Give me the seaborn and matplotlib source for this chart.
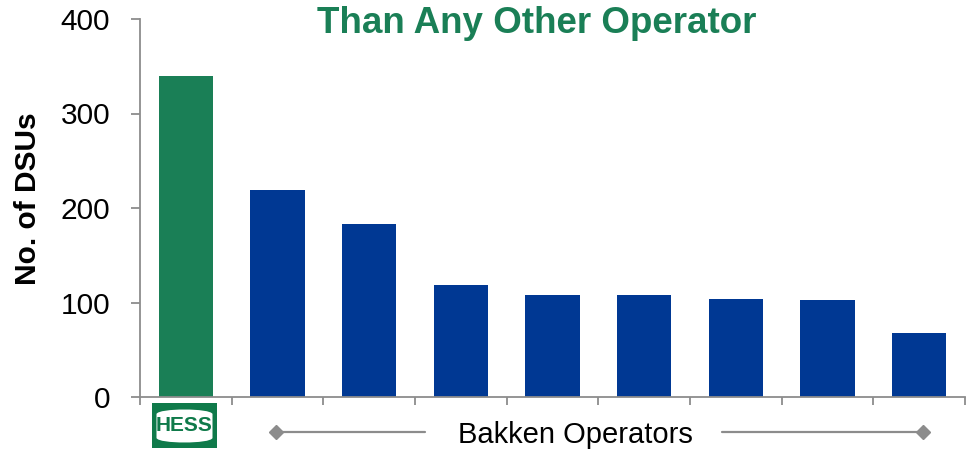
import matplotlib
matplotlib.use("Agg")
import matplotlib.pyplot as plt
import seaborn as sns
import pandas as pd
from matplotlib.patches import Rectangle, PathPatch
from matplotlib.path import Path
from matplotlib.lines import Line2D

# ---- data ----
operators = ["Hess", "Operator 2", "Operator 3", "Operator 4", "Operator 5",
             "Operator 6", "Operator 7", "Operator 8", "Operator 9"]
dsus = [340, 219, 183, 118, 108, 108, 104, 103, 68]
groups = ["Hess"] + ["Other"] * 8
y_ticks = [0, 100, 200, 300, 400]
title_text = "Than Any Other Operator"
ylabel_text = "No. of DSUs"
group_label = "Bakken Operators"
logo_text = "HESS"

GREEN = "#1A7F56"
LOGO_GREEN = "#0F7A4A"
BLUE = "#003893"
GRAY = "#8C8C8C"

sns.set_theme(style="white")
plt.rcParams['font.family'] = ['Liberation Sans', 'DejaVu Sans']

W, H = 971, 450
fig = plt.figure(figsize=(W / 100, H / 100), dpi=100)


def fx(px):
    return px / W


def fy(py):
    return 1 - py / H


ax = fig.add_axes([fx(140), fy(397), fx(965) - fx(140), fy(19) - fy(397)])

df = pd.DataFrame({"operator": operators, "dsus": dsus, "group": groups})
sns.barplot(data=df, x="operator", y="dsus", hue="group",
            palette={"Hess": GREEN, "Other": BLUE}, dodge=False,
            width=0.59, saturation=1, legend=False, ax=ax, linewidth=0)

n = len(operators)
ax.set_xlim(-0.5, n - 0.5)
ax.set_ylim(y_ticks[0], y_ticks[-1])
ax.set_yticks(y_ticks)
ax.set_yticklabels([str(t) for t in y_ticks], fontsize=21.5, color="black")
ax.set_xticks([i - 0.5 for i in range(n + 1)])
ax.set_xticklabels([])
ax.set_xlabel("")
ax.set_ylabel("")

for side in ["top", "right"]:
    ax.spines[side].set_visible(False)
for side in ["left", "bottom"]:
    ax.spines[side].set_color(GRAY)
    ax.spines[side].set_linewidth(1.3)
ax.tick_params(axis="y", left=True, length=6.5, width=1.3, color=GRAY, pad=15)
ax.tick_params(axis="x", bottom=True, length=5.5, width=1.3, color=GRAY)

# title
fig.text(fx(536.5), fy(33), title_text, ha="center", va="baseline",
         fontsize=26.5, fontweight="bold", color=GREEN)

# y label
fig.text(fx(28), fy(198.5), ylabel_text, rotation=90, ha="center", va="center",
         fontsize=21.5, fontweight="bold", color="black")

# Hess logo
fig.patches.append(Rectangle((fx(152), fy(448)), fx(217) - fx(152), fy(403) - fy(448),
                             transform=fig.transFigure, facecolor=LOGO_GREEN,
                             edgecolor="none", zorder=3))
# barrel-shaped white badge (pixel coords -> figure fraction)
l, r, t, b = 156.5, 212.5, 408, 444
bulge = 4
verts_px = [
    (l, t + 5),
    (l + 4, t + 1), ((l + r) / 2, t - bulge + 2), (r - 4, t + 1), (r, t + 5),
    (r, b - 5),
    (r - 4, b - 1), ((l + r) / 2, b + bulge - 2), (l + 4, b - 1), (l, b - 5),
    (l, t + 5),
]
codes = [Path.MOVETO,
         Path.CURVE4, Path.CURVE4, Path.CURVE4, Path.CURVE4,
         Path.LINETO,
         Path.CURVE4, Path.CURVE4, Path.CURVE4, Path.CURVE4,
         Path.CLOSEPOLY]
# simplify: replace cubic pairs with valid sequences
verts_px = [
    (l, t + 6),
    (l + 2, t), (r - 2, t), (r, t + 6),
    (r, b - 6),
    (r - 2, b), (l + 2, b), (l, b - 6),
    (l, t + 6),
]
codes = [Path.MOVETO,
         Path.CURVE4, Path.CURVE4, Path.CURVE4,
         Path.LINETO,
         Path.CURVE4, Path.CURVE4, Path.CURVE4,
         Path.CLOSEPOLY]
verts = [(fx(x), fy(y)) for x, y in verts_px]
fig.patches.append(PathPatch(Path(verts, codes), transform=fig.transFigure,
                             facecolor="white", edgecolor="none", zorder=4))
fig.text(fx(184.5), fy(425.5), logo_text, ha="center", va="center",
         fontsize=15, fontweight="bold", color=LOGO_GREEN, zorder=5,
         family=["Liberation Sans Narrow", "Liberation Sans"])

# Bakken operators bracket
fig.lines.append(Line2D([fx(276), fx(425)], [fy(432), fy(432)], transform=fig.transFigure,
                        color=GRAY, linewidth=1.6))
fig.lines.append(Line2D([fx(722), fx(923)], [fy(432), fy(432)], transform=fig.transFigure,
                        color=GRAY, linewidth=1.6))
fig.lines.append(Line2D([fx(276), fx(923)], [fy(432), fy(432)], transform=fig.transFigure,
                        color=GRAY, linestyle="none", marker="D", markersize=7))
fig.text(fx(575), fy(443), group_label, ha="center", va="baseline",
         fontsize=21, color="black")

fig.savefig("out.png", dpi=100)
